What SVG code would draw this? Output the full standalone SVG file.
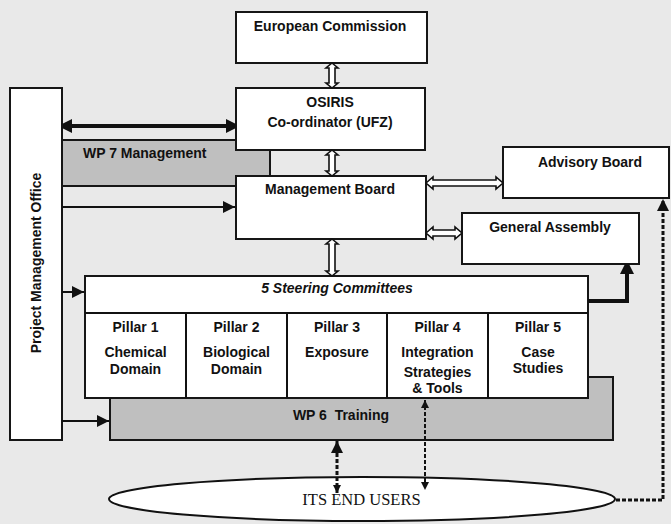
<svg xmlns="http://www.w3.org/2000/svg" width="671" height="524" viewBox="0 0 671 524">
<defs>
<marker id="ah" markerUnits="userSpaceOnUse" markerWidth="12" markerHeight="12" refX="10" refY="5" orient="auto-start-reverse" viewBox="0 0 10 10">
<path d="M0,0 L10,5 L0,10 z" fill="#111"/>
</marker>
<marker id="ahb" markerUnits="userSpaceOnUse" markerWidth="12" markerHeight="14" refX="9" refY="7" orient="auto-start-reverse" viewBox="0 0 10 14">
<path d="M0,0 L10,5 L10,9 L0,14 z" fill="#111"/>
</marker>
<marker id="ahs" markerUnits="userSpaceOnUse" markerWidth="8" markerHeight="8" refX="8" refY="4" orient="auto-start-reverse" viewBox="0 0 8 8">
<path d="M0,0 L8,4 L0,8 z" fill="#111"/>
</marker>
</defs>
<style>
.box{fill:#fff;stroke:#161616;stroke-width:2}
.grey{fill:#bfbfbf;stroke:#161616;stroke-width:2}
.t{font-family:"Liberation Sans",Arial,sans-serif;font-weight:bold;font-size:14px;fill:#111;text-anchor:middle}
.hol{fill:#fff;stroke:#111;stroke-width:1.6;stroke-linejoin:miter}
.ln{fill:none;stroke:#111}
</style>
<rect width="671" height="524" fill="#e9e9e9"/>

<g id="wp7">
<rect class="grey" x="62" y="140" width="208" height="46"/>
<text class="t" x="83" y="158" style="text-anchor:start">WP 7 Management</text>
</g>
<g id="european-commission">
<rect class="box" x="236" y="12" width="191" height="51"/>
<text class="t" x="330" y="31">European Commission</text>
</g>
<g id="osiris">
<rect class="box" x="236" y="88" width="189" height="62"/>
<text class="t" x="330" y="107">OSIRIS</text>
<text class="t" x="330" y="127">Co-ordinator (UFZ)</text>
</g>
<g id="management-board">
<rect class="box" x="236" y="176" width="190" height="63"/>
<text class="t" x="330" y="194">Management Board</text>
</g>
<g id="advisory-board">
<rect class="box" x="503" y="147" width="166" height="51"/>
<text class="t" x="590" y="167">Advisory Board</text>
</g>
<g id="general-assembly">
<rect class="box" x="462" y="213" width="177" height="51"/>
<text class="t" x="550" y="232">General Assembly</text>
</g>
<g id="pmo">
<rect class="box" x="10" y="88" width="52" height="352"/>
<text class="t" transform="translate(41,263) rotate(-90)">Project Management Office</text>
</g>
<g id="wp6">
<rect class="grey" x="110" y="377" width="503" height="63"/>
<text class="t" x="341" y="420" xml:space="preserve">WP 6  Training</text>
</g>
<g id="steering">
<rect class="box" x="85" y="276" width="503" height="122"/>
<line class="ln" x1="85" y1="313" x2="588" y2="313" stroke-width="2"/>
<line class="ln" x1="186" y1="313" x2="186" y2="398" stroke-width="2"/>
<line class="ln" x1="287" y1="313" x2="287" y2="398" stroke-width="2"/>
<line class="ln" x1="387" y1="313" x2="387" y2="398" stroke-width="2"/>
<line class="ln" x1="488" y1="313" x2="488" y2="398" stroke-width="2"/>
<text class="t" x="337" y="293" font-style="italic">5 Steering Committees</text>
</g>
<g id="pillar1">
<text class="t" x="135.5" y="332">Pillar 1</text>
<text class="t" x="135.5" y="357">Chemical</text>
<text class="t" x="135.5" y="374">Domain</text>
</g>
<g id="pillar2">
<text class="t" x="236.5" y="332">Pillar 2</text>
<text class="t" x="236.5" y="357">Biological</text>
<text class="t" x="236.5" y="374">Domain</text>
</g>
<g id="pillar3">
<text class="t" x="337" y="332">Pillar 3</text>
<text class="t" x="337" y="357">Exposure</text>
</g>
<g id="pillar4">
<text class="t" x="437.5" y="332">Pillar 4</text>
<text class="t" x="437.5" y="357">Integration</text>
<text class="t" x="437.5" y="377">Strategies</text>
<text class="t" x="437.5" y="393">&amp; Tools</text>
</g>
<g id="pillar5">
<text class="t" x="538" y="332">Pillar 5</text>
<text class="t" x="538" y="357">Case</text>
<text class="t" x="538" y="373">Studies</text>
</g>
<g id="end-users">
<ellipse cx="362" cy="499" rx="253" ry="22" fill="#fff" stroke="#111" stroke-width="2"/>
<text x="361.5" y="505" font-family="'Liberation Serif','Times New Roman',serif" font-size="16.5" fill="#111" text-anchor="middle">ITS END USERS</text>
</g>

<g id="connectors">
<path class="hol" d="M332,63 L338,68 L335,68 L335,83 L338,83 L332,88 L326,83 L329,83 L329,68 L326,68 Z"/>
<path class="hol" d="M332,150 L338,155 L335,155 L335,171 L338,171 L332,176 L326,171 L329,171 L329,155 L326,155 Z"/>
<path class="hol" d="M332,239 L338,244 L335,244 L335,271 L338,271 L332,276 L326,271 L329,271 L329,244 L326,244 Z"/>
<path class="hol" d="M426,183 L433,177 L433,180 L496,180 L496,177 L503,183 L496,189 L496,186 L433,186 L433,189 Z"/>
<path class="hol" d="M426,233 L433,227 L433,230 L455,230 L455,227 L462,233 L455,239 L455,236 L433,236 L433,239 Z"/>
<line class="ln" x1="63" y1="126" x2="235" y2="126" stroke-width="4" marker-start="url(#ahb)" marker-end="url(#ahb)"/>
<line class="ln" x1="62" y1="207" x2="235" y2="207" stroke-width="2" marker-end="url(#ah)"/>
<line class="ln" x1="62" y1="292" x2="84" y2="292" stroke-width="2" marker-end="url(#ah)"/>
<line class="ln" x1="62" y1="421" x2="109" y2="421" stroke-width="2" marker-end="url(#ah)"/>
<path class="ln" d="M588,301 L627,301 L627,265" stroke-width="4" marker-end="url(#ahb)"/>
<path class="ln" d="M616,500 L663,500 L663,199" stroke-width="3" stroke-dasharray="4,2" marker-end="url(#ah)"/>
<line class="ln" x1="337" y1="441" x2="337" y2="493" stroke-width="3" stroke-dasharray="4,2" marker-start="url(#ah)" marker-end="url(#ahs)"/>
<line class="ln" x1="425" y1="400" x2="425" y2="490" stroke-width="2" stroke-dasharray="4,2" marker-start="url(#ahs)" marker-end="url(#ahs)"/>
</g>
</svg>
